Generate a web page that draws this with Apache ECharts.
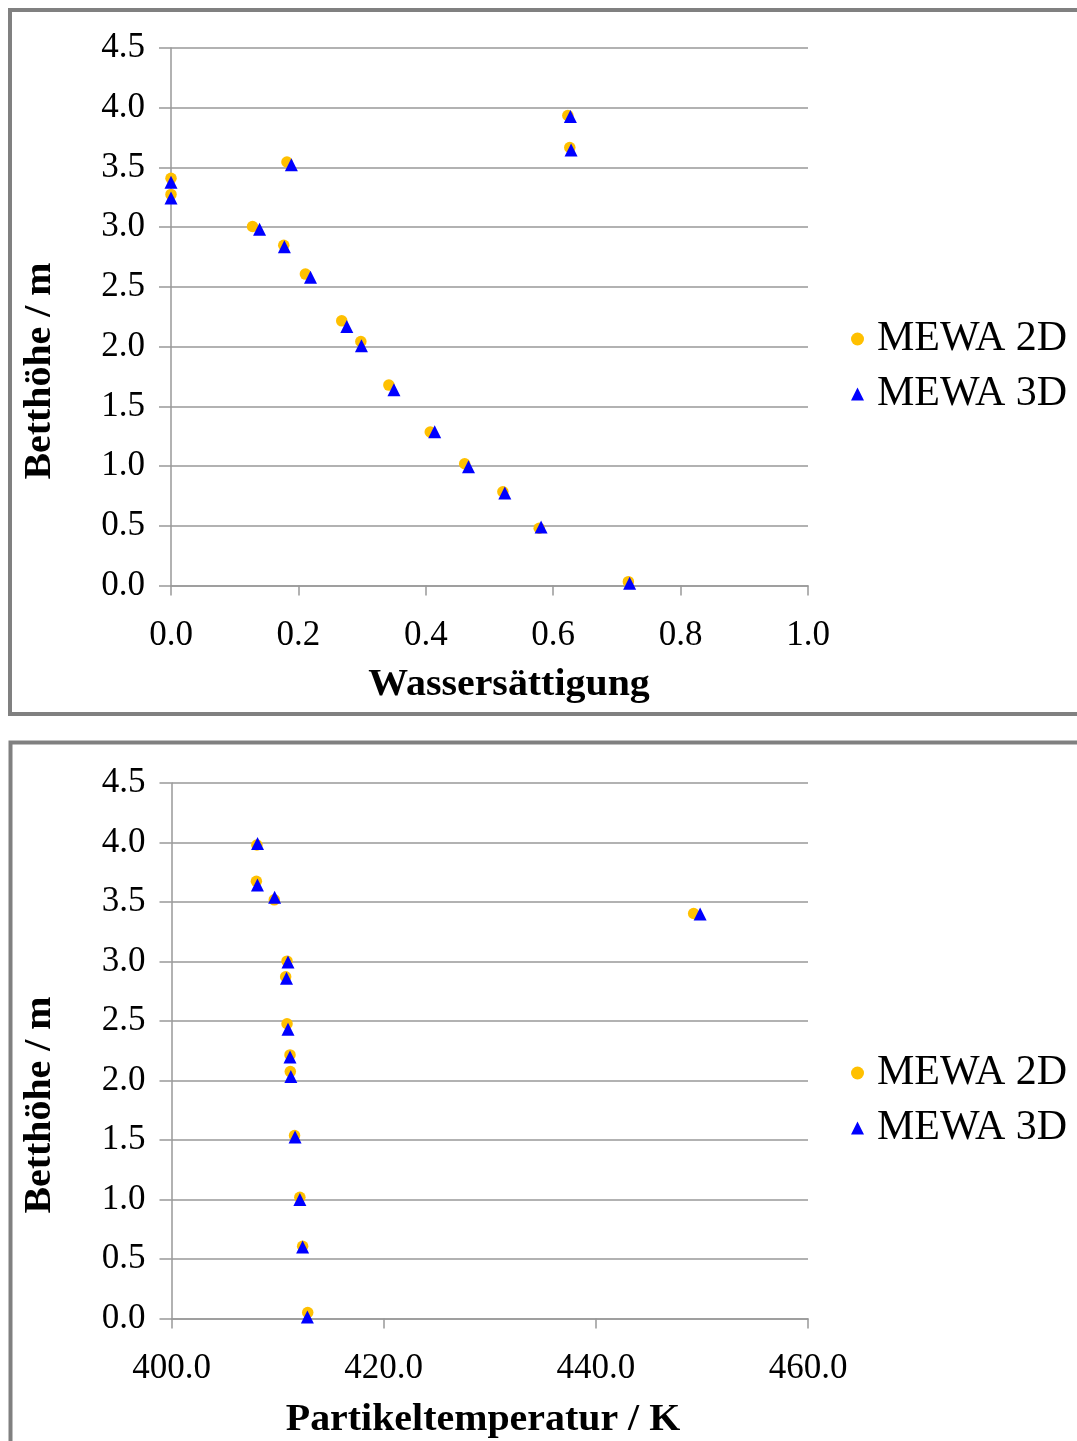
<!DOCTYPE html>
<html>
<head>
<meta charset="utf-8">
<script src="https://cdn.jsdelivr.net/npm/echarts@6/dist/echarts.min.js"></script>
<style>
  html, body { margin: 0; padding: 0; background: #fff; }
  #chart { width: 1077px; height: 1441px; }
</style>
</head>
<body>
<div id="chart"></div>
<script>
// Bed height profiles from the MEWA 2D and 3D simulations
const seriesNames = ['MEWA 2D', 'MEWA 3D'];

// Water saturation [-] vs. bed height [m]
const saturation2D = [
  [0.623, 3.935], [0.626, 3.667], [0.182, 3.546], [0.0, 3.41], [0.0, 3.274],
  [0.128, 3.006], [0.177, 2.849], [0.211, 2.607], [0.268, 2.216], [0.298, 2.043],
  [0.342, 1.678], [0.407, 1.285], [0.461, 1.019], [0.521, 0.785], [0.578, 0.479],
  [0.718, 0.032]
];
const saturation3D = [
  [0.627, 3.926], [0.628, 3.647], [0.189, 3.523], [0.0, 3.377], [0.0, 3.244],
  [0.139, 2.983], [0.178, 2.837], [0.219, 2.580], [0.276, 2.169], [0.299, 2.007],
  [0.350, 1.638], [0.414, 1.287], [0.467, 0.994], [0.524, 0.774], [0.581, 0.490],
  [0.720, 0.018]
];

// Particle temperature [K] vs. bed height [m]
const temperature2D = [
  [408.05, 3.979], [408.0, 3.674], [409.69, 3.518], [410.89, 3.003], [410.76, 2.872],
  [410.89, 2.477], [411.17, 2.215], [411.2, 2.075], [411.6, 1.538], [412.1, 1.018],
  [412.36, 0.607], [412.84, 0.050], [449.22, 3.403]
];
const temperature3D = [
  [408.11, 3.992], [408.1, 3.643], [409.72, 3.539], [410.98, 2.996], [410.84, 2.859],
  [410.98, 2.431], [411.17, 2.198], [411.25, 2.033], [411.65, 1.525], [412.1, 1.001],
  [412.36, 0.600], [412.81, 0.013], [449.83, 3.40]
];

// Tick labels
const heightTicks = ['0.0', '0.5', '1.0', '1.5', '2.0', '2.5', '3.0', '3.5', '4.0', '4.5'];
const saturationTicks = ['0.0', '0.2', '0.4', '0.6', '0.8', '1.0'];
const temperatureTicks = ['400.0', '420.0', '440.0', '460.0'];

const FONT = '"Liberation Serif", "Times New Roman", serif';
const GRID_GRAY = '#999999';
const FRAME_GRAY = '#808080';

function valueAxis(extra) {
  return Object.assign({
    type: 'value',
    axisLine: { show: true, lineStyle: { color: GRID_GRAY, width: 1.5 } },
    axisTick: { show: true, inside: false, lineStyle: { color: GRID_GRAY, width: 1.5 } },
    splitLine: { show: false },
    axisLabel: { color: '#000', fontFamily: FONT, fontSize: 35 }
  }, extra);
}

function heightAxis(gridIndex) {
  return valueAxis({
    gridIndex: gridIndex,
    min: 0, max: 4.5, interval: 0.5,
    axisTick: { show: true, length: 12, lineStyle: { color: GRID_GRAY, width: 1.5 } },
    splitLine: { show: true, lineStyle: { color: GRID_GRAY, width: 1.5 } },
    axisLabel: {
      color: '#000', fontFamily: FONT, fontSize: 35, margin: 26,
      formatter: v => heightTicks[Math.round(v / 0.5)]
    }
  });
}

const circleStyle = { color: '#FFC000', opacity: 1 };
const triangleStyle = { color: '#0000FF', opacity: 1 };

function scatter(name, data, idx, isTri) {
  return {
    type: 'scatter',
    name: name,
    xAxisIndex: idx,
    yAxisIndex: idx,
    data: data,
    symbol: isTri ? 'triangle' : 'circle',
    symbolSize: isTri ? 13 : 11.5,
    itemStyle: isTri ? triangleStyle : circleStyle,
    z: isTri ? 3 : 2,
    emphasis: { disabled: true },
    animation: false
  };
}

function legendAt(top) {
  return {
    data: seriesNames,
    orient: 'vertical',
    left: 846,
    top: top,
    itemWidth: 13,
    itemHeight: 13,
    itemGap: 13,
    selectedMode: false,
    textStyle: { color: '#000', fontFamily: FONT, fontSize: 42, lineHeight: 41, padding: [0, 0, 0, 8] }
  };
}

const titleFont = 'bold 38px ' + FONT;

const option = {
  backgroundColor: '#fff',
  animation: false,
  grid: [
    { left: 171, right: 269, top: 48, height: 537.5 },
    { left: 171.5, right: 269, top: 783, height: 535.5 }
  ],
  xAxis: [
    valueAxis({
      gridIndex: 0, min: 0, max: 1, interval: 0.2,
      axisTick: { show: true, length: 10, lineStyle: { color: GRID_GRAY, width: 1.5 } },
      axisLabel: {
        color: '#000', fontFamily: FONT, fontSize: 35, margin: 33,
        formatter: v => saturationTicks[Math.round(v / 0.2)]
      }
    }),
    valueAxis({
      gridIndex: 1, min: 400, max: 460, interval: 20,
      axisTick: { show: true, length: 10, lineStyle: { color: GRID_GRAY, width: 1.5 } },
      axisLabel: {
        color: '#000', fontFamily: FONT, fontSize: 35, margin: 33,
        formatter: v => temperatureTicks[Math.round((v - 400) / 20)]
      }
    })
  ],
  yAxis: [heightAxis(0), heightAxis(1)],
  legend: [legendAt(313), legendAt(1047)],
  series: [
    scatter(seriesNames[0], saturation2D, 0, false),
    scatter(seriesNames[1], saturation3D, 0, true),
    scatter(seriesNames[0], temperature2D, 1, false),
    scatter(seriesNames[1], temperature3D, 1, true)
  ],
  graphic: [
    // chart frames
    { type: 'rect', z: -1, silent: true,
      shape: { x: 10, y: 10, width: 1100, height: 704 },
      style: { fill: 'none', stroke: FRAME_GRAY, lineWidth: 4 } },
    { type: 'rect', z: -1, silent: true,
      shape: { x: 10.5, y: 742.5, width: 1100, height: 800 },
      style: { fill: 'none', stroke: FRAME_GRAY, lineWidth: 4 } },
    // axis titles
    { type: 'text', x: 509, y: 685, scaleX: 1.05, silent: true,
      style: { text: 'Wassersättigung', font: titleFont, fill: '#000', align: 'center', verticalAlign: 'middle' } },
    { type: 'text', x: 40, y: 371, rotation: Math.PI / 2, scaleX: 1.05, silent: true,
      style: { text: 'Betthöhe / m', font: titleFont, fill: '#000', align: 'center', verticalAlign: 'middle' } },
    { type: 'text', x: 483, y: 1420, scaleX: 1.05, silent: true,
      style: { text: 'Partikeltemperatur / K', font: titleFont, fill: '#000', align: 'center', verticalAlign: 'middle' } },
    { type: 'text', x: 40, y: 1105, rotation: Math.PI / 2, scaleX: 1.05, silent: true,
      style: { text: 'Betthöhe / m', font: titleFont, fill: '#000', align: 'center', verticalAlign: 'middle' } }
  ]
};

const chart = echarts.init(document.getElementById('chart'), null, { renderer: 'canvas' });
chart.setOption(option);
</script>
</body>
</html>
